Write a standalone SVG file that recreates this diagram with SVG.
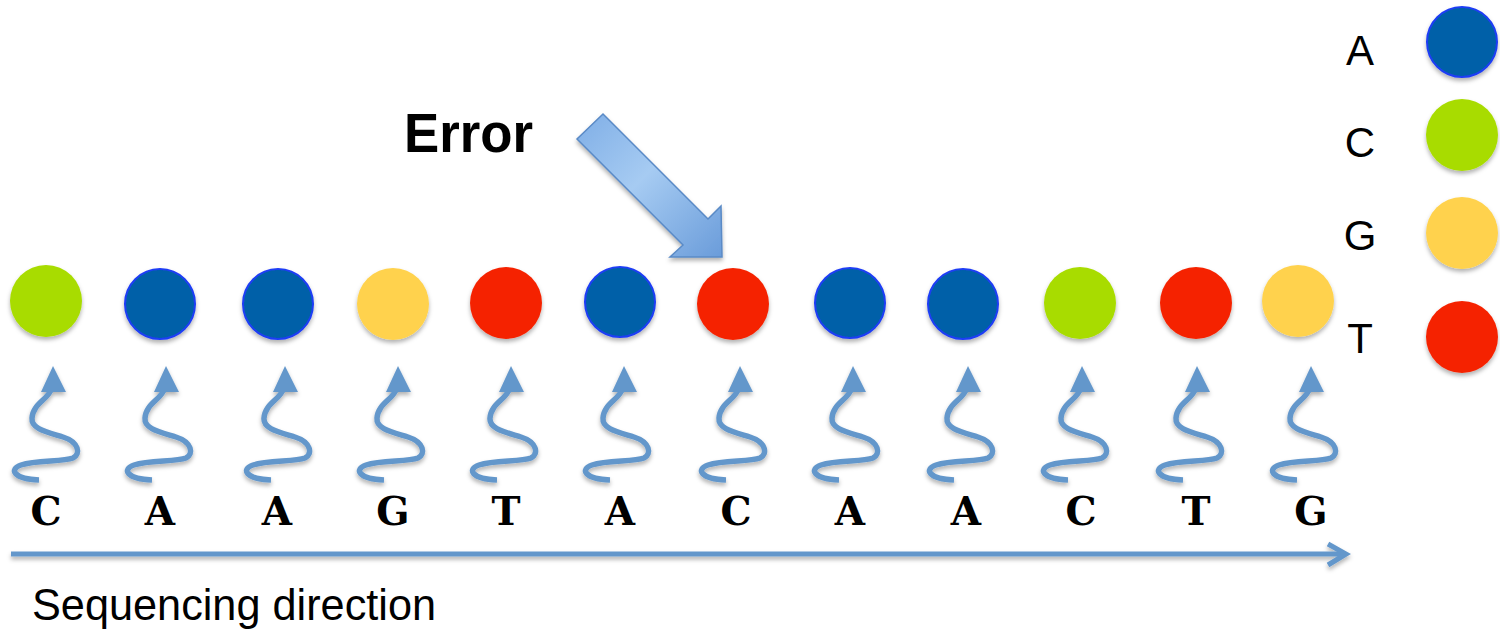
<svg xmlns="http://www.w3.org/2000/svg" xmlns:xlink="http://www.w3.org/1999/xlink" width="1500" height="630" viewBox="0 0 1500 630">
<defs>
<style>
.A{fill:#0061A8;stroke:#1F3DF5;stroke-width:2}
.C{fill:#A8DC00}
.G{fill:#FFD24D}
.T{fill:#F52400}
.sq{fill:none;stroke:#6497CB;stroke-width:5.5}
.hd{fill:#6497CB}
.base{font-family:"DejaVu Serif","Liberation Mono",serif;font-weight:bold;font-size:39px;fill:#000;text-anchor:middle}
.leg{font-family:"Liberation Sans",Arial,sans-serif;font-size:42px;fill:#000;text-anchor:middle}
</style>
<filter id="sh" x="-30%" y="-30%" width="160%" height="170%">
<feDropShadow dx="0" dy="3" stdDeviation="2" flood-color="#000" flood-opacity="0.3"/>
</filter>
<linearGradient id="eg" x1="0" y1="0" x2="1" y2="1">
<stop offset="0" stop-color="#7FAEE6"/>
<stop offset="0.45" stop-color="#A6CBF2"/>
<stop offset="1" stop-color="#6A9CDA"/>
</linearGradient>
<g id="wig">
<path class="sq" d="M -2 24 C -6 34 -20 38 -21 52 C -22 63 -6 66 10 71 C 26 76 28 88 20 92 C 10 96 -16 94 -32 99 C -44 103 -40 113 -14 114"/>
<polygon class="hd" points="0,0 -12,26 13,26"/>
</g>
</defs>
<rect width="1500" height="630" fill="#fff"/>

<g id="title">
<text x="404" y="152" font-family="Liberation Sans,Arial,sans-serif" font-weight="bold" font-size="56" textLength="129" lengthAdjust="spacingAndGlyphs">Error</text>
</g>
<g id="error-arrow" filter="url(#sh)">
<polygon points="603,114 708,219 721,206 722,257 670,257 683,245 577,139" fill="url(#eg)" stroke="#5A8AC6" stroke-width="1.5"/>
</g>

<g id="legend">
<g id="leg-A"><text class="leg" x="1360" y="65">A</text><circle class="A" cx="1462" cy="42" r="35" filter="url(#sh)"/></g>
<g id="leg-C"><text class="leg" x="1360" y="157">C</text><circle class="C" cx="1462" cy="135" r="36" filter="url(#sh)"/></g>
<g id="leg-G"><text class="leg" x="1360" y="250">G</text><circle class="G" cx="1462" cy="233" r="36" filter="url(#sh)"/></g>
<g id="leg-T"><text class="leg" x="1360" y="353">T</text><circle class="T" cx="1462" cy="337" r="36" filter="url(#sh)"/></g>
</g>

<g id="col1"><circle class="C" cx="46" cy="301" r="36" filter="url(#sh)"/><use xlink:href="#wig" x="53" y="366" filter="url(#sh)"/><text class="base" x="46" y="525">C</text></g>
<g id="col2"><circle class="A" cx="160" cy="304" r="35" filter="url(#sh)"/><use xlink:href="#wig" x="166" y="366" filter="url(#sh)"/><text class="base" x="160" y="525">A</text></g>
<g id="col3"><circle class="A" cx="278" cy="304" r="35" filter="url(#sh)"/><use xlink:href="#wig" x="285" y="366" filter="url(#sh)"/><text class="base" x="277" y="525">A</text></g>
<g id="col4"><circle class="G" cx="393" cy="304" r="36" filter="url(#sh)"/><use xlink:href="#wig" x="398" y="366" filter="url(#sh)"/><text class="base" x="393" y="525">G</text></g>
<g id="col5"><circle class="T" cx="506" cy="303" r="36" filter="url(#sh)"/><use xlink:href="#wig" x="511" y="366" filter="url(#sh)"/><text class="base" x="506" y="525">T</text></g>
<g id="col6"><circle class="A" cx="620" cy="302" r="35" filter="url(#sh)"/><use xlink:href="#wig" x="624" y="366" filter="url(#sh)"/><text class="base" x="620" y="525">A</text></g>
<g id="col7"><circle class="T" cx="733" cy="304" r="36" filter="url(#sh)"/><use xlink:href="#wig" x="740" y="366" filter="url(#sh)"/><text class="base" x="736" y="525">C</text></g>
<g id="col8"><circle class="A" cx="850" cy="303" r="35" filter="url(#sh)"/><use xlink:href="#wig" x="853" y="366" filter="url(#sh)"/><text class="base" x="850" y="525">A</text></g>
<g id="col9"><circle class="A" cx="963" cy="304" r="35" filter="url(#sh)"/><use xlink:href="#wig" x="968" y="366" filter="url(#sh)"/><text class="base" x="966" y="525">A</text></g>
<g id="col10"><circle class="C" cx="1080" cy="303" r="36" filter="url(#sh)"/><use xlink:href="#wig" x="1082" y="366" filter="url(#sh)"/><text class="base" x="1081" y="525">C</text></g>
<g id="col11"><circle class="T" cx="1196" cy="303" r="36" filter="url(#sh)"/><use xlink:href="#wig" x="1197" y="366" filter="url(#sh)"/><text class="base" x="1196" y="525">T</text></g>
<g id="col12"><circle class="G" cx="1298" cy="301" r="36" filter="url(#sh)"/><use xlink:href="#wig" x="1311" y="366" filter="url(#sh)"/><text class="base" x="1311" y="525">G</text></g>

<g id="connectors" filter="url(#sh)">
<line x1="11" y1="554" x2="1344" y2="554" stroke="#6497CB" stroke-width="5"/>
<polyline points="1328,544 1346,554 1328,565" fill="none" stroke="#6497CB" stroke-width="5" stroke-linejoin="miter"/>
</g>
<g id="caption">
<text x="32" y="620" font-family="Liberation Sans,Arial,sans-serif" font-size="44" textLength="404" lengthAdjust="spacingAndGlyphs">Sequencing direction</text>
</g>
</svg>
